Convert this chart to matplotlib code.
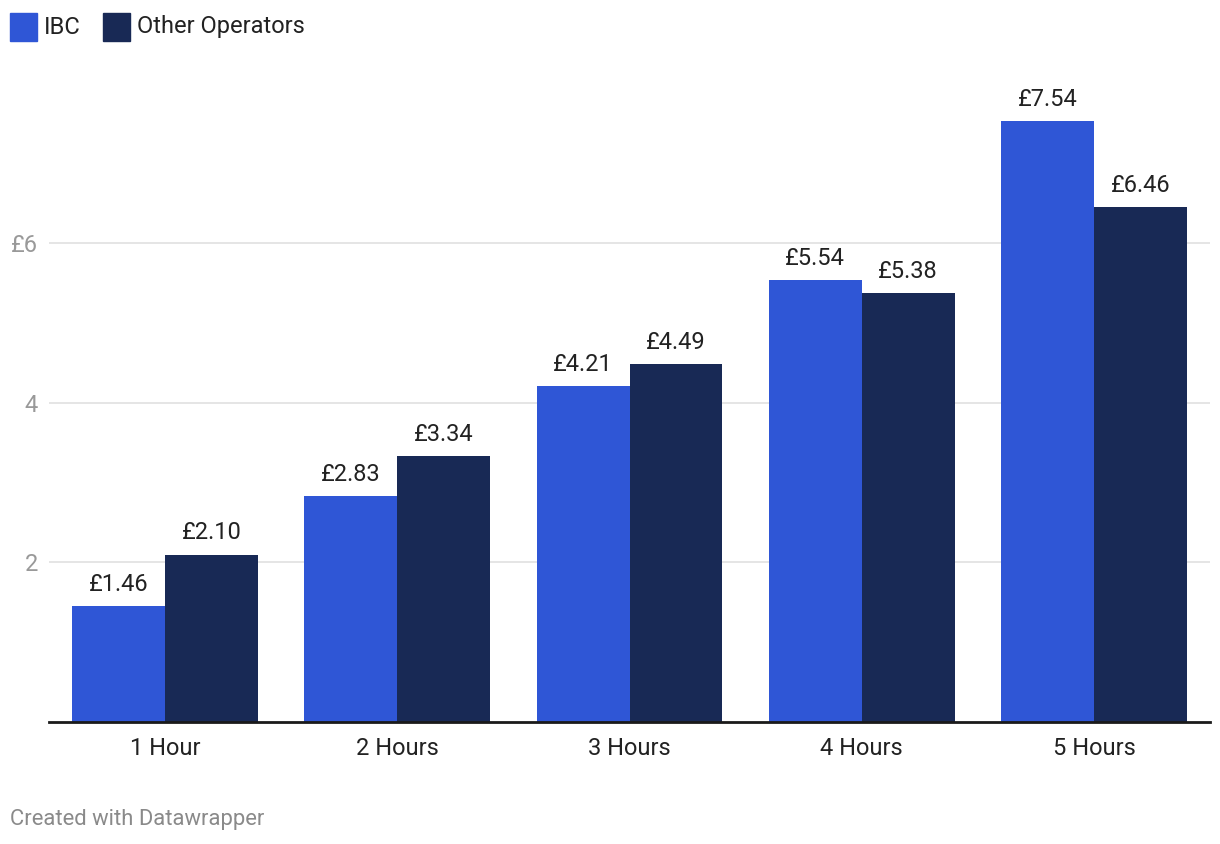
import numpy as np
import matplotlib.pyplot as plt
from matplotlib.patches import Rectangle

plt.rcParams['font.family'] = ['Roboto', 'DejaVu Sans']

# data
categories = ['1 Hour', '2 Hours', '3 Hours', '4 Hours', '5 Hours']
ibc = [1.46, 2.83, 4.21, 5.54, 7.54]
other = [2.10, 3.34, 4.49, 5.38, 6.46]
series_names = ['IBC', 'Other Operators']
yticks = [2, 4, 6]
ytick_labels = ['2', '4', '£6']

c_ibc = '#2f56d6'
c_other = '#182955'

fig = plt.figure(figsize=(12.2, 8.44), dpi=100)
ax = fig.add_axes([49 / 1220, 1 - 722 / 844, (1210 - 49) / 1220, (722 - 80) / 844])

x = np.arange(len(categories))
w = 0.4
b1 = ax.bar(x - w / 2, ibc, w, color=c_ibc, zorder=3)
b2 = ax.bar(x + w / 2, other, w, color=c_other, zorder=3)

for bars, vals in ((b1, ibc), (b2, other)):
    for rect, v in zip(bars, vals):
        ax.text(rect.get_x() + rect.get_width() / 2, v + 0.27, f'£{v:.2f}',
                ha='center', va='center', fontsize=17, color='#222222')

ax.set_xlim(-0.5, 4.5)
ax.set_ylim(0, 8.05)
ax.set_yticks(yticks)
ax.set_yticklabels(ytick_labels)
ax.set_xticks(x)
ax.set_xticklabels(categories)
ax.grid(axis='y', color='#e0e0e0', linewidth=1.2, zorder=0)
ax.tick_params(axis='y', length=0, labelsize=17, labelcolor='#999999', pad=8)
ax.tick_params(axis='x', length=0, labelsize=17, labelcolor='#222222', pad=11)
for s in ['top', 'right', 'left']:
    ax.spines[s].set_visible(False)
ax.spines['bottom'].set_color('#1a1a1a')
ax.spines['bottom'].set_linewidth(2)
ax.spines['bottom'].set_zorder(4)

# legend along the top
legend_x = [10, 103]
for lx, name, col in zip(legend_x, series_names, [c_ibc, c_other]):
    fig.patches.append(Rectangle((lx / 1220, 1 - 41 / 844), 27 / 1220, 28 / 844,
                                 transform=fig.transFigure, color=col))
    fig.text((lx + 34) / 1220, 1 - 27 / 844, name, fontsize=17,
             color='#222222', va='center', ha='left')

fig.text(10 / 1220, 1 - 819 / 844, 'Created with Datawrapper', fontsize=15.8,
         color='#8a8a8a', va='center', ha='left')

fig.savefig('out.png', dpi=100)
